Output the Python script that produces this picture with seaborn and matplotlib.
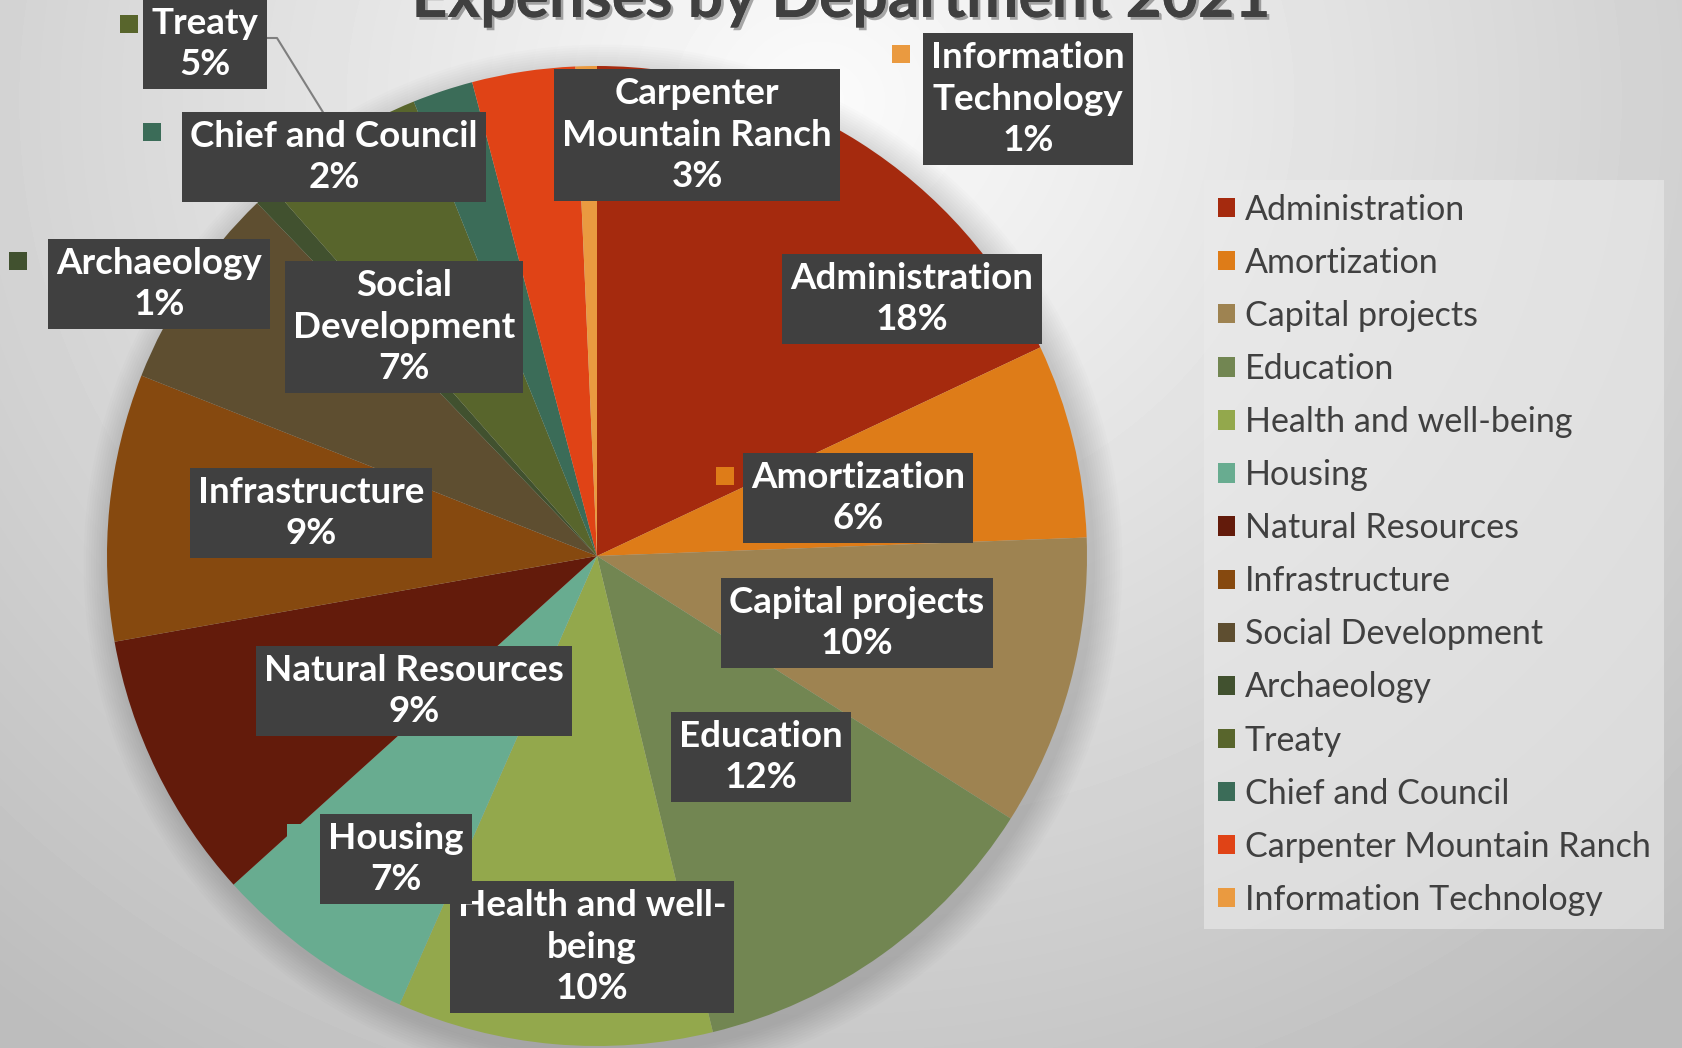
import numpy as np
import matplotlib.pyplot as plt
import matplotlib.patheffects as pe
from matplotlib.patches import Rectangle
from matplotlib.lines import Line2D
import seaborn as sns

# Data (percent of total expenses)
departments = ["Administration", "Amortization", "Capital projects", "Education",
               "Health and well-being", "Housing", "Natural Resources", "Infrastructure",
               "Social Development", "Archaeology", "Treaty", "Chief and Council",
               "Carpenter Mountain Ranch", "Information Technology"]
shares = [18.0, 6.4, 9.6, 12.2, 10.4, 6.7, 8.9, 8.8, 6.8, 0.7, 5.4, 2.0, 3.4, 0.7]
label_names = ["Administration", "Amortization", "Capital projects", "Education",
               "Health and well-\nbeing", "Housing", "Natural Resources", "Infrastructure",
               "Social\nDevelopment", "Archaeology", "Treaty", "Chief and Council",
               "Carpenter\nMountain Ranch", "Information\nTechnology"]
colors = ["#A52A0E", "#DE7C18", "#9E8351", "#728652", "#93A84C", "#68AC90", "#631B0B",
          "#86490F", "#5E4E30", "#41512F", "#58652C", "#3B6C58", "#E04316", "#EA9A40"]

W, H = 1682, 1048
CX, CY, R = 597, 556, 490

sns.set_theme(style="white")
plt.rcParams["font.family"] = ["Lato", "DejaVu Sans"]

fig = plt.figure(figsize=(W / 100, H / 100), dpi=100)

# background gradient
bg = fig.add_axes([0, 0, 1, 1])
yy, xx = np.mgrid[0:H, 0:W]
d = np.sqrt(((xx - 820) / 1100) ** 2 + ((yy - 100) / 1000) ** 2)
shade = np.clip(0.985 - 0.21 * d, 0.74, 1)
bg.imshow(shade, cmap="gray", vmin=0, vmax=1, extent=[0, W, H, 0], aspect="auto")
bg.set_xlim(0, W)
bg.set_ylim(H, 0)
bg.axis("off")

# soft shadow around the pie
for k in range(12):
    bg.add_patch(plt.Circle((CX + 6, CY + 8), R + 2 + k * 2.5, color="black",
                            alpha=0.012, lw=0))

ax = fig.add_axes([(CX - R) / W, (H - CY - R) / H, 2 * R / W, 2 * R / H])
wedges, _ = ax.pie(shares, colors=colors, startangle=90, counterclock=False,
                   wedgeprops=dict(linewidth=0))
ax.set_xlim(-1, 1)
ax.set_ylim(-1, 1)
ax.set_aspect("auto")
ax.axis("off")


def fpos(x, y):
    return x / W, 1 - y / H


# title (cut off at the top, as in the reference)
fig.text(0.5, 1 - 17 / H, "Expenses by Department 2021", ha="center", va="baseline",
         fontsize=45, fontweight="bold", color="#404040",
         path_effects=[pe.withSimplePatchShadow(offset=(2, -2), alpha=0.35), pe.Normal()])

# data label anchors in pixels
label_pos = {
    "Administration": (912, 299), "Amortization": (858, 498),
    "Capital projects": (857, 623), "Education": (761, 757),
    "Health and well-being": (592, 947), "Housing": (396, 859),
    "Natural Resources": (414, 691), "Infrastructure": (311, 513),
    "Social Development": (404, 327), "Archaeology": (159, 284),
    "Treaty": (205, 44), "Chief and Council": (334, 157),
    "Carpenter Mountain Ranch": (697, 135), "Information Technology": (1028, 99),
}
swatch_pos = {
    "Treaty": (129, 24), "Chief and Council": (152, 132), "Archaeology": (18, 261),
    "Information Technology": (901, 54), "Amortization": (725, 476), "Housing": (296, 833),
}

# leader line for Treaty
tw = wedges[departments.index("Treaty")]
mid = np.deg2rad((tw.theta1 + tw.theta2) / 2)
ex, ey = CX + 0.93 * R * np.cos(mid), CY - 0.93 * R * np.sin(mid)
lx = [266, 277, ex]
ly = [38, 38, ey]
fig.add_artist(Line2D([x / W for x in lx], [1 - y / H for y in ly], color="#7f7f7f",
                      lw=1.5, zorder=2))

for name, lab, val, col in zip(departments, label_names, shares, colors):
    x, y = label_pos[name]
    fig.text(*fpos(x, y), f"{lab}\n{round(val)}%", ha="center", va="center",
             ma="center", fontsize=26.5, fontweight="bold", color="white",
             linespacing=1.3, zorder=3,
             bbox=dict(boxstyle="square,pad=0.22", facecolor="#404040",
                       edgecolor="none"))
    if name in swatch_pos:
        sx, sy = swatch_pos[name]
        fig.add_artist(Rectangle(fpos(sx - 9, sy + 9), 18 / W, 18 / H, facecolor=col,
                                 edgecolor="none", transform=fig.transFigure, zorder=2.9))

# legend
leg = fig.legend(wedges, departments, loc="upper left",
                 bbox_to_anchor=(1204 / W, 1 - 180 / H), frameon=True,
                 fontsize=24.5, labelcolor="#404040", handlelength=0.5,
                 handleheight=0.5, handletextpad=0.3, labelspacing=0.62,
                 borderpad=0.4, borderaxespad=0, fancybox=False)
leg.get_frame().set_facecolor("#ebebeb")
leg.get_frame().set_edgecolor("none")
leg.get_frame().set_alpha(0.6)

fig.savefig("out.png", dpi=100)
